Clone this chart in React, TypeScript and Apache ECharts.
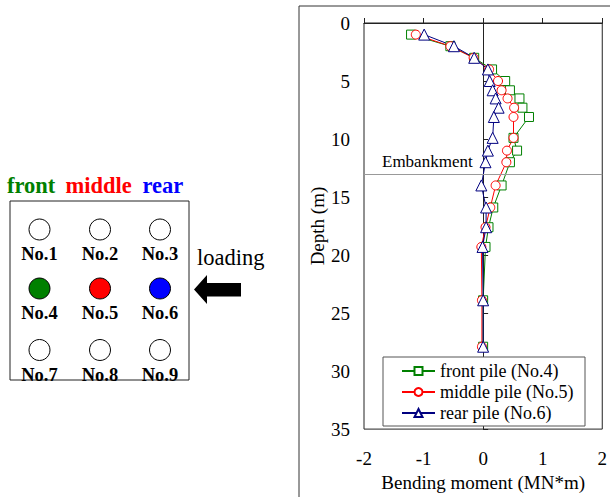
import React, { useEffect, useRef } from "react";
import * as echarts from "echarts";

// Depth of each measuring point along the pile (m)
const depths = [1, 2, 3, 4, 5, 5.8, 6.5, 7.3, 8.1, 9.9, 11, 12, 14, 15.9, 17.6, 19.3, 23.9, 27.9];

// Bending moment (MN*m) at each depth
const frontPile = [-1.21, -0.55, -0.15, 0.15, 0.37, 0.45, 0.61, 0.66, 0.77, 0.51, 0.57, 0.45, 0.31, 0.17, 0.09, 0.04, 0, 0];
const middlePile = [-1.13, -0.55, -0.16, 0.1, 0.25, 0.31, 0.41, 0.52, 0.51, 0.51, 0.4, 0.39, 0.21, 0.12, 0.04, -0.03, -0.02, -0.02];
const rearPile = [-0.99, -0.49, -0.15, 0.08, 0.11, 0.16, 0.21, 0.26, 0.18, 0.16, 0.08, 0.04, -0.03, 0.05, 0.05, -0.01, 0, 0];

const seriesNames = ["front pile (No.4)", "middle pile (No.5)", "rear pile (No.6)"];
const embankmentDepth = 13;

// Pile group layout: labels in a 3x3 grid
const pileLabels = [
  ["No.1", "No.2", "No.3"],
  ["No.4", "No.5", "No.6"],
  ["No.7", "No.8", "No.9"],
];

const SERIF = "Liberation Serif";

export default function App() {
  const ref = useRef<HTMLDivElement>(null);

  useEffect(() => {
    if (!ref.current) return;
    const chart = echarts.init(ref.current, undefined, { renderer: "svg" });

    const toPairs = (vals: number[]) => vals.map((v, i) => [v, depths[i]]);

    const colX = [39.5, 100, 160];
    const rowY = [229.5, 288.5, 350];
    const fillFor = (r: number, c: number) => {
      if (r !== 1) return "#ffffff";
      return ["#008000", "#ff0000", "#0000ff"][c];
    };

    const txt = (
      x: number,
      y: number,
      text: string,
      size: number,
      weight: string,
      fill: string,
      align: string
    ) => ({
      type: "text",
      x,
      y,
      style: {
        text,
        fill,
        fontFamily: SERIF,
        fontSize: size,
        fontWeight: weight,
        textAlign: align,
        textVerticalAlign: "middle",
      },
    });

    const graphics: any[] = [];
    // outer frame around the chart panel
    graphics.push({
      type: "rect",
      shape: { x: 299, y: 6, width: 400, height: 600 },
      style: { fill: "none", stroke: "#333", lineWidth: 1 },
      silent: true,
    });
    // legend frame (the legend itself is drawn on top of it)
    graphics.push({
      type: "rect",
      z: 3,
      shape: { x: 383, y: 357, width: 202, height: 69 },
      style: { fill: "#fff", stroke: "#555", lineWidth: 1 },
      silent: true,
    });
    // row headings
    graphics.push(txt(7, 185, "front", 22.5, "bold", "#008000", "left"));
    graphics.push(txt(65.5, 185, "middle", 22.5, "bold", "#ff0000", "left"));
    graphics.push(txt(142.5, 185, "rear", 22.5, "bold", "#0000ff", "left"));
    // pile group box
    graphics.push({
      type: "rect",
      shape: { x: 10, y: 201, width: 179, height: 179 },
      style: { fill: "#fff", stroke: "#222", lineWidth: 1 },
    });
    pileLabels.forEach((row, r) =>
      row.forEach((lab, c) => {
        graphics.push({
          type: "circle",
          shape: { cx: colX[c], cy: rowY[r], r: 10.5 },
          style: { fill: fillFor(r, c), stroke: "#000", lineWidth: 1 },
        });
        graphics.push(txt(colX[c], rowY[r] + 24.5, lab, 18.5, "bold", "#000", "center"));
      })
    );
    // loading direction
    graphics.push(txt(197, 257, "loading", 22.5, "normal", "#000", "left"));
    graphics.push({
      type: "polygon",
      shape: {
        points: [
          [194, 289.5],
          [207, 275],
          [207, 283],
          [241, 283],
          [241, 296.5],
          [207, 296.5],
          [207, 304],
        ],
      },
      style: { fill: "#000" },
    });

    const mk = (name: string, vals: number[], color: string, symbol: string) => ({
      name,
      type: "line",
      data: toPairs(vals),
      symbol,
      symbolSize: symbol === "triangle" ? 11 : 9,
      showSymbol: true,
      lineStyle: { color, width: 1 },
      itemStyle: { color: "#fff", borderColor: color, borderWidth: 1 },
      emphasis: { disabled: true },
      z: 2,
    });

    const series: any[] = [
      mk(seriesNames[0], frontPile, "#008000", "rect"),
      mk(seriesNames[1], middlePile, "#ff0000", "circle"),
      mk(seriesNames[2], rearPile, "#000080", "triangle"),
    ];
    series[0].markLine = {
      silent: true,
      symbol: ["none", "none"],
      lineStyle: { color: "#999", width: 1, type: "solid" },
      label: {
        show: true,
        position: "insideStartTop",
        formatter: "Embankment",
        color: "#000",
        fontFamily: SERIF,
        fontSize: 17,
        distance: [18, 4],
      },
      data: [{ yAxis: embankmentDepth }],
    };

    const legendText = { color: "#000", fontSize: 18, fontFamily: SERIF };

    chart.setOption({
      animation: false,
      backgroundColor: "#fff",
      textStyle: { fontFamily: SERIF },
      grid: {
        left: 364,
        right: 5,
        top: 23,
        bottom: 65,
        show: true,
        borderColor: "#222",
        borderWidth: 1,
        backgroundColor: "transparent",
      },
      xAxis: {
        type: "value",
        min: -2,
        max: 2,
        interval: 1,
        splitLine: { show: false },
        axisLine: { lineStyle: { color: "#222" } },
        axisTick: { inside: true, length: 5, lineStyle: { color: "#222" } },
        axisLabel: { color: "#000", fontSize: 19, fontFamily: SERIF, margin: 20 },
        name: "Bending moment (MN*m)",
        nameLocation: "middle",
        nameGap: 38,
        nameTextStyle: { color: "#000", fontSize: 19, fontFamily: SERIF },
      },
      yAxis: {
        type: "value",
        inverse: true,
        min: 0,
        max: 35,
        interval: 5,
        splitLine: { show: false },
        axisLine: { show: true, lineStyle: { color: "#222" } },
        axisTick: { show: true, inside: true, length: 5, lineStyle: { color: "#222" } },
        axisLabel: { color: "#000", fontSize: 19, fontFamily: SERIF, margin: 14 },
        name: "Depth (m)",
        nameLocation: "middle",
        nameGap: 37,
        nameTextStyle: { color: "#000", fontSize: 19, fontFamily: SERIF },
      },
      legend: {
        data: seriesNames,
        orient: "vertical",
        left: 383,
        top: 357,
        z: 5,
        padding: [5, 12, 4, 18],
        itemGap: 3,
        itemWidth: 33,
        itemHeight: 10,
        backgroundColor: "transparent",
        borderWidth: 0,
        textStyle: legendText,
        selectedMode: false,
      },
      graphic: graphics,
      series,
    });

    return () => chart.dispose();
  }, []);

  return (
    <div
      ref={ref}
      style={{ position: "fixed", left: 0, top: 0, width: 610, height: 497 }}
    />
  );
}
